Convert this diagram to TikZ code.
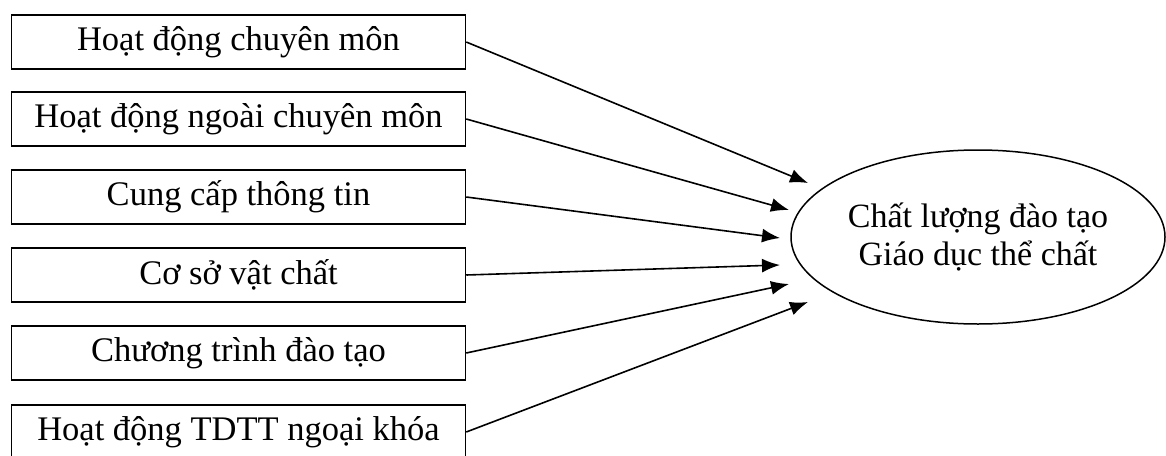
\documentclass[tikz,border=0pt]{standalone}
\usepackage{fontspec}
\setmainfont{Liberation Serif}
\usetikzlibrary{shapes.geometric,arrows.meta}
\tikzset{
  factor/.style={draw, line width=1.5pt, minimum width=454pt, minimum height=54pt,
    inner sep=0pt, font=\fontsize{34.5}{38}\selectfont},
  outcome/.style={ellipse, draw, line width=1.5pt, minimum width=374pt, minimum height=174pt,
    inner sep=0pt, align=center, font=\fontsize{34}{38}\selectfont},
  link/.style={line width=1.6pt, -{Latex[length=18pt,width=14pt]}}
}
\begin{document}
\begin{tikzpicture}[x=1pt,y=-1pt]
  \useasboundingbox (0,0) rectangle (1166,455);
  \clip (0,0) rectangle (1166,455);
  % factor boxes
  \node[factor] (b1) at (238.5,42)  {Hoạt động chuyên môn};
  \node[factor] (b2) at (238.5,119) {Hoạt động ngoài chuyên môn};
  \node[factor] (b3) at (238.5,197) {Cung cấp thông tin};
  \node[factor] (b4) at (238.5,275) {Cơ sở vật chất};
  \node[factor] (b5) at (238.5,353) {Chương trình đào tạo};
  \node[factor] (b6) at (238.5,432) {Hoạt động TDTT ngoại khóa};
  % outcome
  \node[outcome] (q) at (978,237) {Chất lượng đào tạo\\Giáo dục thể chất};
  % arrow tips
  \coordinate (t1) at (808,183);
  \coordinate (t2) at (789,210);
  \coordinate (t3) at (780,238);
  \coordinate (t4) at (780,265);
  \coordinate (t5) at (789,284);
  \coordinate (t6) at (808,302);
  \foreach \i in {1,...,6}{
    \draw[link] (b\i.east) -- (t\i);
  }
\end{tikzpicture}
\end{document}
